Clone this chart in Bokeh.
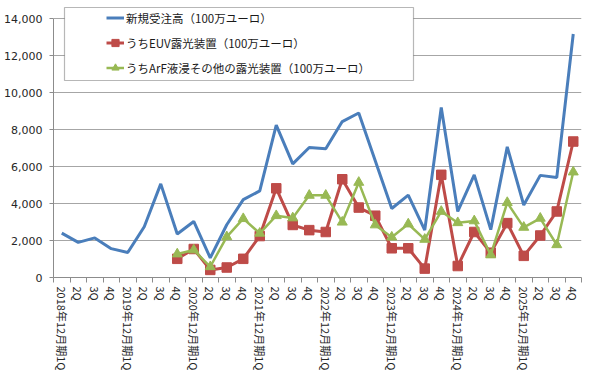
from bokeh.plotting import figure
from bokeh.models import (FixedTicker, NumeralTickFormatter, Range1d, Legend,
                          LegendItem, BoxAnnotation)
from bokeh.embed import file_html
from bokeh.resources import INLINE

years = ["2018", "2019", "2020", "2021", "2022", "2023", "2024", "2025"]
quarters = ["1Q", "2Q", "3Q", "4Q"]
tick_labels = []
for y in years:
    for q in quarters:
        tick_labels.append(f"{y}年12月期{q}" if q == "1Q" else q)

series_names = ["新規受注高（100万ユーロ）",
                "うちEUV露光装置（100万ユーロ）",
                "うちArF液浸その他の露光装置（100万ユーロ）"]

orders = [2400, 1900, 2140, 1560, 1350, 2740, 5060, 2350,
          3030, 1060, 2850, 4210, 4680, 8240, 6140, 7030,
          6960, 8430, 8890, 6310, 3730, 4450, 2560, 9190,
          3570, 5550, 2590, 7060, 3920, 5520, 5400, 13160]
euv_start = 7
euv = [1010, 1540, 410, 540,
       1010, 2240, 4820, 2840, 2560, 2460, 5310, 3780, 3340,
       1580, 1580, 480, 5550, 620, 2460, 1340, 2940,
       1170, 2270, 3570, 7350]
arf = [1270, 1490, 580, 2200,
       3180, 2390, 3340, 3220, 4440, 4440, 2990, 5140, 2840,
       2180, 2890, 2060, 3570, 2960, 3060, 1220, 4050,
       2710, 3200, 1770, 5700]

y_ticks = list(range(0, 14001, 2000))

n = len(orders)
x_all = list(range(n))
x_sub = list(range(euv_start, n))

BLUE = "#4A7EBB"
RED = "#BE4B48"
GREEN = "#98B954"
GRID = "#a6a6a6"
AXIS = "#8c8c8c"

W, H = 584, 375
B_LEFT, B_RIGHT, B_TOP, B_BOTTOM = 53, 3, 1, 98
frame_bottom = H - B_BOTTOM          # canvas y of the value 0
top_px = 18                          # canvas y of the value 14000
y_top = 14000 * (frame_bottom - B_TOP) / (frame_bottom - top_px)

p = figure(width=W, height=H, output_backend="svg", toolbar_location=None,
           x_range=Range1d(-0.5, n - 0.5), y_range=Range1d(0, y_top),
           min_border_left=B_LEFT, min_border_right=B_RIGHT,
           min_border_top=B_TOP, min_border_bottom=B_BOTTOM)
p.outline_line_color = None
p.background_fill_color = "white"
p.border_fill_color = "white"

# y axis
p.yaxis.ticker = FixedTicker(ticks=y_ticks)
p.yaxis.bounds = (0, 14000)
p.yaxis.formatter = NumeralTickFormatter(format="0,0")
p.yaxis.minor_tick_line_color = None
p.yaxis.major_tick_out = 4
p.yaxis.major_tick_in = 0
p.yaxis.major_label_standoff = 7
p.yaxis.axis_line_color = AXIS
p.yaxis.major_tick_line_color = AXIS
p.yaxis.major_label_text_font = "DejaVu Sans"
p.yaxis.major_label_text_font_size = "11px"
p.yaxis.major_label_text_color = "#262626"

# x axis
p.xaxis.ticker = FixedTicker(ticks=x_all, minor_ticks=[i - 0.5 for i in range(n + 1)])
p.xaxis.major_label_overrides = {i: tick_labels[i] for i in range(n)}
p.xaxis.major_label_orientation = "vertical"
p.xaxis.major_tick_line_color = None
p.xaxis.minor_tick_out = 5
p.xaxis.minor_tick_in = 0
p.xaxis.minor_tick_line_color = AXIS
p.xaxis.axis_line_color = AXIS
p.xaxis.major_label_standoff = 3
p.xaxis.major_label_text_font = "Noto Sans CJK JP"
p.xaxis.major_label_text_font_size = "11px"
p.xaxis.major_label_text_color = "#262626"

p.xgrid.visible = False
p.ygrid.grid_line_color = GRID
p.ygrid.grid_line_width = 1

r1 = p.line(x_all, orders, line_color=BLUE, line_width=3)
r2l = p.line(x_sub, euv, line_color=RED, line_width=3)
r2s = p.scatter(x_sub, euv, marker="square", size=9.5, fill_color=RED, line_color=RED)
r3l = p.line(x_sub, arf, line_color=GREEN, line_width=2.5)
r3s = p.scatter(x_sub, arf, marker="triangle", size=10, fill_color=GREEN, line_color=GREEN)

# legend frame (canvas pixels)
box = BoxAnnotation(left=64, right=413, top=7, bottom=80,
                    left_units="canvas", right_units="canvas",
                    top_units="canvas", bottom_units="canvas",
                    fill_color="white", fill_alpha=1.0,
                    line_color="#111111", line_width=1.2)
p.add_layout(box)

leg_top = 8
row_h, row_gap = 19, 6
leg_h = 3 * row_h + 2 * row_gap
legend = Legend(items=[LegendItem(label=series_names[0], renderers=[r1]),
                       LegendItem(label=series_names[1], renderers=[r2l, r2s]),
                       LegendItem(label=series_names[2], renderers=[r3l, r3s])],
                location=(106 - B_LEFT, frame_bottom - (leg_top + leg_h)),
                orientation="vertical",
                padding=0, margin=0, spacing=row_gap,
                glyph_width=18, glyph_height=row_h, label_height=row_h,
                label_standoff=2,
                label_text_font="Noto Sans CJK JP", label_text_font_size="11.5px",
                label_text_color="#1a1a1a",
                border_line_color=None, background_fill_alpha=0)
p.add_layout(legend)

open("out.html", "w").write(file_html(p, INLINE))
